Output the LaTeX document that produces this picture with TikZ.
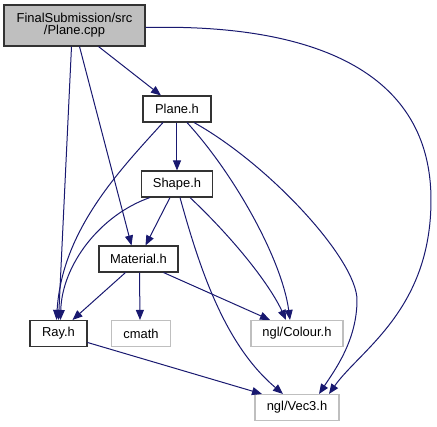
\documentclass[tikz,border=0pt]{standalone}
\usepackage{fontspec}
\setmainfont{Liberation Sans}
\usetikzlibrary{arrows.meta,calc}
\definecolor{edgeblue}{HTML}{191970}
\definecolor{greyfill}{HTML}{BFBFBF}
\definecolor{greyline}{HTML}{BFBFBF}
\tikzset{
  box/.style={draw=black!80, line width=0.8pt, inner sep=0pt, align=center, font=\fontsize{9.7}{8.8}\selectfont},
  extbox/.style={box, draw=greyline},
  dep/.style={draw=edgeblue, line width=0.75pt, -{Triangle[length=7.5pt,width=6pt]}},
}
\begin{document}
\begin{tikzpicture}[x=0.75pt,y=-0.75pt]
\useasboundingbox (0,0) rectangle (437,427);
\node[box, fill=greyfill, minimum width=141*0.75pt, minimum height=41*0.75pt] (cpp) at (74.5,25.5) {FinalSubmission/src\\/Plane.cpp};
\node[box, minimum width=68*0.75pt, minimum height=26*0.75pt] (plane) at (177,109) {Plane.h};
\node[box, minimum width=71*0.75pt, minimum height=26*0.75pt] (shape) at (177,184) {Shape.h};
\node[box, minimum width=79*0.75pt, minimum height=26*0.75pt] (mat) at (138.5,259) {Material.h};
\node[box, minimum width=57*0.75pt, minimum height=26*0.75pt] (ray) at (58.5,333.5) {Ray.h};
\node[extbox, minimum width=59*0.75pt, minimum height=26*0.75pt] (cmath) at (141,333.5) {cmath};
\node[extbox, minimum width=92*0.75pt, minimum height=26*0.75pt] (colour) at (297,333.5) {ngl/Colour.h};
\node[extbox, minimum width=84*0.75pt, minimum height=26*0.75pt] (vec) at (297,407.5) {ngl/Vec3.h};

% from Plane.cpp
\draw[dep] ($(cpp.south)+(24,0)$) -- ($(plane.north)+(-16,0)$);
\draw[dep] ($(cpp.south)+(-3,0)$) -- ($(ray.north)+(0,0)$);
\draw[dep] ($(cpp.south)+(5,0)$) -- ($(mat.north)+(-7,0)$);
\draw[dep] ($(cpp.east)+(0,2)$) .. controls (250,25) and (431,40) .. (431,200)
  .. controls (431,310) and (360,350) .. ($(vec.north)+(32,0)$);
% from Plane.h
\draw[dep] (plane.south) -- (shape.north);
\draw[dep] ($(plane.south)+(-14,0)$) .. controls (120,170) and (62,230) .. ($(ray.north)+(-2,0)$);
\draw[dep] ($(plane.south)+(10,0)$) .. controls (235,175) and (282,260) .. ($(colour.north)+(-7,0)$);
\draw[dep] ($(plane.south)+(17,0)$) .. controls (270,165) and (357,260) .. (357,300)
  .. controls (357,340) and (335,370) .. ($(vec.north)+(22,0)$);
% from Shape.h
\draw[dep] ($(shape.south)+(-7,0)$) -- ($(mat.north)+(7,0)$);
\draw[dep] ($(shape.south)+(-27,0)$) .. controls (100,215) and (62,265) .. ($(ray.north)+(2,0)$);
\draw[dep] ($(shape.south)+(13,0)$) .. controls (235,240) and (270,285) .. ($(colour.north)+(-11,0)$);
\draw[dep] ($(shape.south)+(3,0)$) .. controls (200,270) and (225,345) .. ($(vec.north)+(-14,0)$);
% from Material.h
\draw[dep] ($(mat.south)+(-13,0)$) -- ($(ray.north)+(14,0)$);
\draw[dep] ($(mat.south)+(1,0)$) -- ($(cmath.north)+(-1,0)$);
\draw[dep] ($(mat.south)+(25,0)$) -- ($(colour.north)+(-27,0)$);
% from Ray.h
\draw[dep] ($(ray.east)+(0,9)$) -- ($(vec.north)+(-35,0)$);
\end{tikzpicture}
\end{document}
